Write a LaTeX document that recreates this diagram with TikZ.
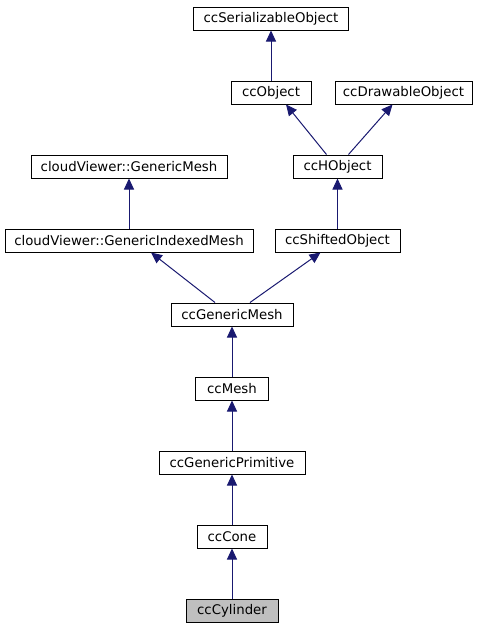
\documentclass[tikz,border=0pt]{standalone}
\usepackage{fontspec}
\setmainfont{DejaVu Sans}
\usetikzlibrary{arrows.meta}
\definecolor{edgeblue}{HTML}{191970}
\definecolor{hilite}{HTML}{BFBFBF}
\tikzset{
  cls/.style={draw=black, line width=1pt, fill=white, inner xsep=0pt, inner ysep=0pt,
    minimum height=23pt, font=\fontsize{13.3}{16}\selectfont, text=black},
  inh/.style={draw=edgeblue, line width=1pt,
    -{Triangle[length=11pt,width=10pt,fill=edgeblue]}}
}
\begin{document}
\begin{tikzpicture}[x=1pt,y=-1pt]
\useasboundingbox (0,0) rectangle (480,635);
\node[cls, minimum width=155pt] (ser)   at (271,18.5)   {ccSerializableObject};
\node[cls, minimum width=80pt]  (obj)   at (271,92.5)   {ccObject};
\node[cls, minimum width=137pt] (drw)   at (403.5,92.5) {ccDrawableObject};
\node[cls, minimum width=89pt]  (hobj)  at (337.5,166.5) {ccHObject};
\node[cls, minimum width=196pt] (gm)    at (129,166.5)  {cloudViewer::GenericMesh};
\node[cls, minimum width=248pt] (gim)   at (129,240.5)  {cloudViewer::GenericIndexedMesh};
\node[cls, minimum width=125pt] (shift) at (337.5,240.5) {ccShiftedObject};
\node[cls, minimum width=122pt] (ccgm)  at (232,314.5)  {ccGenericMesh};
\node[cls, minimum width=73pt]  (mesh)  at (232,388.5)  {ccMesh};
\node[cls, minimum width=146pt] (prim)  at (232,462.5)  {ccGenericPrimitive};
\node[cls, minimum width=70pt]  (cone)  at (232,536.5)  {ccCone};
\node[cls, minimum width=92pt, fill=hilite] (cyl) at (232,610.5) {ccCylinder};

\draw[inh] (obj.north) -- (ser.south);
\draw[inh] ([xshift=-11pt]hobj.north) -- ([xshift=15pt]obj.south);
\draw[inh] ([xshift=11pt]hobj.north) -- ([xshift=-11pt]drw.south);
\draw[inh] (gim.north) -- (gm.south);
\draw[inh] (shift.north) -- (hobj.south);
\draw[inh] ([xshift=-17pt]ccgm.north) -- ([xshift=22pt]gim.south);
\draw[inh] ([xshift=18pt]ccgm.north) -- ([xshift=-17pt]shift.south);
\draw[inh] (mesh.north) -- (ccgm.south);
\draw[inh] (prim.north) -- (mesh.south);
\draw[inh] (cone.north) -- (prim.south);
\draw[inh] (cyl.north) -- (cone.south);
\end{tikzpicture}
\end{document}
